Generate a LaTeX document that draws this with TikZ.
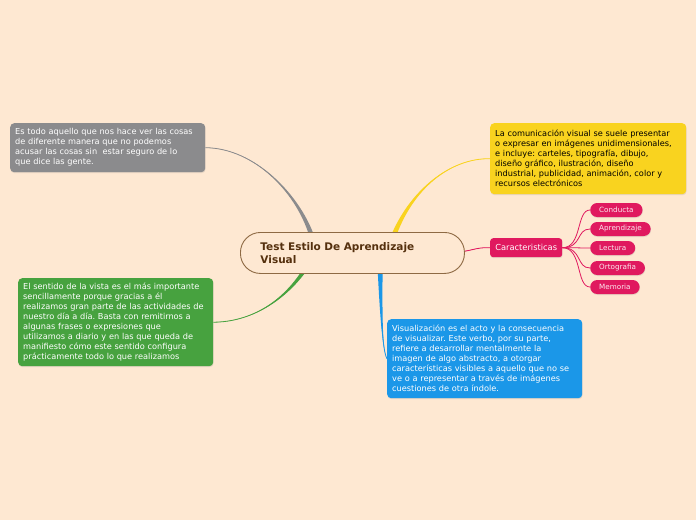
\documentclass[tikz,border=0pt]{standalone}
\usepackage{fontspec}
\setmainfont{DejaVu Sans}
\frenchspacing
\usetikzlibrary{positioning,calc,backgrounds,shadows}
\definecolor{paper}{HTML}{FEE8D2}
\definecolor{stone}{HTML}{8B8B8D}
\definecolor{gold}{HTML}{F9D31F}
\definecolor{leafgreen}{HTML}{47A23F}
\definecolor{sky}{HTML}{1B97E8}
\definecolor{berry}{HTML}{E0195F}
\definecolor{rim}{HTML}{8E6A44}
\definecolor{cocoa}{HTML}{55300E}
\tikzset{
  central/.style={
    draw=rim,
    line width=0.9pt,
    fill=paper,
    rounded corners=20pt,
    anchor=north west,
    minimum width=224pt,
    minimum height=41pt,
    text width=184pt,
    inner xsep=20pt,
    align=left,
    text=cocoa,
    font=\fontsize{10.5}{13}\selectfont\bfseries
  },
  softshadow/.style={drop shadow={opacity=0.18, shadow xshift=0.4pt, shadow yshift=-1pt}},
  topic/.style={
    softshadow,
    rounded corners=4pt,
    anchor=north west,
    inner xsep=5pt,
    inner ysep=0pt,
    align=left,
    font=\fontsize{8.2}{10}\selectfont
  },
  traitbox/.style={softshadow, rounded corners=3pt, fill=berry, text=white, anchor=north west,
    minimum width=72pt, minimum height=19pt, inner sep=0pt, font=\fontsize{8.3}{9}\selectfont},
  leaf/.style={softshadow, rounded corners=7pt, fill=berry, text=white!90!berry, anchor=west,
    minimum height=14pt, inner xsep=9pt, inner ysep=0pt, font=\fontsize{7.2}{8}\selectfont},
  twig/.style={berry, line width=0.8pt}
}
% tapered branch: colour, half width, start, control 1, control 2, end
\newcommand{\branch}[6]{\fill[#1] ($#3+(-#2,0)$) .. controls ($#4+(-#2/2,0)$) and #5 .. #6
  .. controls #5 and ($#4+(#2/2,0)$) .. ($#3+(#2,0)$) -- cycle;
  \draw[#1, line width=0.8pt] #3 .. controls #4 and #5 .. #6;}

\begin{document}
\begin{tikzpicture}[x=1pt, y=-1pt]
  \useasboundingbox (0,0) rectangle (696,520);
  \node[central] (main) at (240,232) {Test Estilo De Aprendizaje\\Visual};
  \node[topic, fill=stone, text=white, text width=185pt, minimum height=49pt] (seeing) at (10,123)
    {Es todo aquello que nos hace ver las cosas\\de diferente manera que no podemos\\acusar las cosas sin\ \ estar seguro de lo\\que dice las gente.};
  \node[topic, fill=gold, text=black, text width=186pt, minimum height=71pt] (visual) at (490,123)
    {La comunicación visual se suele presentar\\o expresar en imágenes unidimensionales,\\e incluye: carteles, tipografía, dibujo,\\diseño gráfico, ilustración, diseño\\industrial, publicidad, animación, color y\\recursos electrónicos};
  \node[topic, fill=leafgreen, text=white, text width=185pt, minimum height=88pt] (sense) at (18,278)
    {El sentido de la vista es el más importante\\sencillamente porque gracias a él\\realizamos gran parte de las actividades de\\nuestro día a día. Basta con remitirnos a\\algunas frases o expresiones que\\utilizamos a diario y en las que queda de\\manifiesto cómo este sentido configura\\prácticamente todo lo que realizamos};
  \node[topic, fill=sky, text=white, text width=185pt, minimum height=79pt] (visualize) at (387,319)
    {Visualización es el acto y la consecuencia\\de visualizar. Este verbo, por su parte,\\refiere a desarrollar mentalmente la\\imagen de algo abstracto, a otorgar\\características visibles a aquello que no se\\ve o a representar a través de imágenes\\cuestiones de otra índole.};
  \node[traitbox] (traits) at (490,238) {Caracteristicas};
  \node[leaf] (conduct) at (590,210) {Conducta};
  \node[leaf] (learning) at (590,229) {Aprendizaje};
  \node[leaf] (reading) at (590,248) {Lectura};
  \node[leaf] (spelling) at (590,268) {Ortografia};
  \node[leaf] (memory) at (590,287) {Memoria};
  \begin{scope}[on background layer]
    \fill[paper] (0,0) rectangle (696,520);
    \branch{stone}{2.6}{(313,240)}{(300,195)}{(255,148)}{(seeing.east)}
    \branch{gold}{2.8}{(392,240)}{(410,190)}{(450,158)}{(visual.west)}
    \branch{leafgreen}{2.6}{(308,265)}{(285,302)}{(250,322)}{(sense.east)}
    \branch{sky}{2.6}{(380,265)}{(381,310)}{(382,350)}{(visualize.west)}
    \branch{berry}{1.2}{(455,252)}{(470,252)}{(475,247)}{(traits.west)}
  \end{scope}
  \draw[twig] (traits.east) .. controls +(20,0) and +(-14,0) .. (conduct.west);
  \draw[twig] (traits.east) .. controls +(20,0) and +(-14,0) .. (learning.west);
  \draw[twig] (traits.east) .. controls +(20,0) and +(-14,0) .. (reading.west);
  \draw[twig] (traits.east) .. controls +(20,0) and +(-14,0) .. (spelling.west);
  \draw[twig] (traits.east) .. controls +(20,0) and +(-14,0) .. (memory.west);
\end{tikzpicture}
\end{document}
